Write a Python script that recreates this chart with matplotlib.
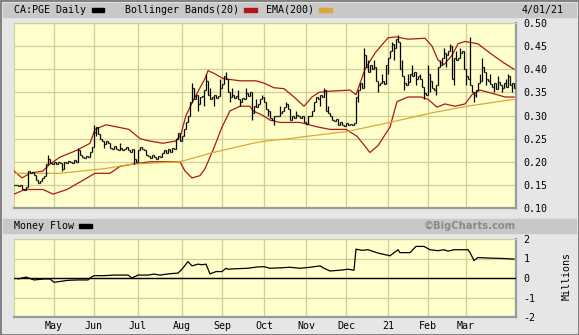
import matplotlib
matplotlib.use("Agg")
import matplotlib.pyplot as plt
from matplotlib.patches import Rectangle

#region data (x = trading-day index)
close = [
    0.150, 0.150, 0.148, 0.150, 0.142, 0.138, 0.145, 0.180, 0.175, 0.178,
    0.172, 0.160, 0.155, 0.158, 0.165, 0.170, 0.195, 0.205, 0.198, 0.195,
    0.200, 0.196, 0.200, 0.198, 0.185, 0.200, 0.198, 0.202, 0.200, 0.197,
    0.203, 0.200, 0.225, 0.215, 0.210, 0.208, 0.212, 0.210, 0.222, 0.232,
    0.265, 0.275, 0.260, 0.250, 0.245, 0.238, 0.245, 0.240, 0.230, 0.228,
    0.235, 0.228, 0.225, 0.230, 0.225, 0.228, 0.232, 0.225, 0.222, 0.228,
    0.205, 0.200, 0.225, 0.232, 0.228, 0.225, 0.215, 0.212, 0.208, 0.215,
    0.210, 0.206, 0.212, 0.210, 0.218, 0.225, 0.220, 0.228, 0.222, 0.230,
    0.228, 0.250, 0.262, 0.245, 0.255, 0.270, 0.285, 0.300, 0.330, 0.360,
    0.335, 0.345, 0.325, 0.340, 0.342, 0.355, 0.375, 0.345, 0.335, 0.340,
    0.345, 0.338, 0.342, 0.360, 0.368, 0.385, 0.378, 0.350, 0.340, 0.345,
    0.338, 0.342, 0.335, 0.330, 0.338, 0.335, 0.348, 0.342, 0.350, 0.305,
    0.320, 0.318, 0.325, 0.335, 0.340, 0.330, 0.315, 0.310, 0.295, 0.290,
    0.298, 0.300, 0.300, 0.305, 0.310, 0.318, 0.325, 0.315, 0.290, 0.300,
    0.295, 0.302, 0.298, 0.295, 0.300, 0.285, 0.282, 0.300, 0.298, 0.310,
    0.330, 0.340, 0.335, 0.345, 0.340, 0.355, 0.310, 0.305, 0.300, 0.290,
    0.288, 0.292, 0.280, 0.285, 0.280, 0.278, 0.283, 0.280, 0.282, 0.280,
    0.283, 0.340, 0.355, 0.370, 0.360, 0.430, 0.405, 0.395, 0.410, 0.400,
    0.405, 0.375, 0.365, 0.370, 0.375, 0.368, 0.410, 0.425, 0.440, 0.455,
    0.445, 0.465, 0.460, 0.400, 0.385, 0.370, 0.365, 0.372, 0.390, 0.385,
    0.395, 0.380, 0.385, 0.378, 0.362, 0.348, 0.345, 0.390, 0.375, 0.360,
    0.355, 0.365, 0.405, 0.410, 0.425, 0.435, 0.430, 0.440, 0.450, 0.380,
    0.425, 0.420, 0.425, 0.435, 0.440, 0.400, 0.385, 0.380, 0.365, 0.350,
    0.345, 0.355, 0.370, 0.375, 0.405, 0.395, 0.380, 0.375, 0.368, 0.362,
    0.370, 0.358, 0.372, 0.365, 0.360, 0.370, 0.362, 0.385, 0.365, 0.370,
    0.360,
]
# intraday extremes that poke out past open/close
spike_idx = [7, 16, 17, 24, 32, 40, 41, 45, 53, 60, 89, 92, 95, 96, 98, 100, 103,
             106, 108, 109, 112, 113, 116, 119, 121, 124, 127, 130, 133, 136, 141,
             153, 155, 157, 171, 172, 175, 177, 180, 182, 184, 187, 189, 190, 192,
             194, 195, 197, 199, 201, 203, 205, 207, 208, 211, 213, 215, 216, 218,
             220, 221, 223, 225, 226, 228, 230, 231, 233, 234, 236, 238, 240, 242,
             244, 246, 247, 249]
spike_val = [0.165, 0.185, 0.215, 0.180, 0.230, 0.280, 0.255, 0.230, 0.240, 0.195,
             0.370, 0.310, 0.320, 0.390, 0.360, 0.320, 0.380, 0.395, 0.330, 0.360,
             0.355, 0.320, 0.360, 0.290, 0.335, 0.345, 0.300, 0.280, 0.320, 0.330,
             0.310, 0.320, 0.360, 0.320, 0.300, 0.330, 0.445, 0.420, 0.420, 0.350,
             0.390, 0.390, 0.460, 0.420, 0.475, 0.420, 0.355, 0.390, 0.410, 0.365,
             0.390, 0.335, 0.410, 0.350, 0.345, 0.420, 0.445, 0.405, 0.455, 0.365,
             0.440, 0.445, 0.430, 0.365, 0.470, 0.330, 0.340, 0.390, 0.425, 0.365,
             0.390, 0.350, 0.385, 0.350, 0.380, 0.390, 0.350]

upper_idx = [0, 4, 8, 14.5, 18, 23, 31.5, 38, 40.5, 46, 57.5, 63, 67.5, 74.5, 81,
             83.5, 86, 90.5, 95.5, 97, 100.5, 104.5, 113, 121, 125, 130, 135, 140,
             145, 149, 152.5, 156, 168, 171, 175.5, 180.5, 187, 191, 197, 205.5,
             209, 212, 215, 219, 222, 225.5, 232, 238, 244.5, 250]
upper_val = [0.18, 0.165, 0.175, 0.18, 0.195, 0.21, 0.225, 0.24, 0.27, 0.28, 0.27,
             0.25, 0.245, 0.24, 0.245, 0.26, 0.30, 0.34, 0.38, 0.397, 0.39, 0.38,
             0.375, 0.375, 0.37, 0.36, 0.358, 0.34, 0.32, 0.34, 0.35, 0.352, 0.355,
             0.345, 0.40, 0.435, 0.468, 0.47, 0.465, 0.467, 0.45, 0.42, 0.41, 0.43,
             0.455, 0.46, 0.455, 0.435, 0.415, 0.40]

lower_idx = [0, 5.5, 14.5, 19.5, 26.5, 34.5, 40.5, 48, 53, 59.5, 68, 76.5, 83,
             85.5, 89, 93, 95.5, 99.5, 104, 108, 113, 118, 119.5, 124.5, 128, 133,
             143, 152, 158, 166, 171.5, 178, 182, 188, 191.5, 197, 203.5, 207,
             211.5, 215.5, 220.5, 225.5, 229, 233, 239, 245.5, 250]
lower_val = [0.13, 0.14, 0.14, 0.13, 0.14, 0.16, 0.175, 0.175, 0.19, 0.195, 0.20,
             0.20, 0.20, 0.18, 0.165, 0.17, 0.185, 0.225, 0.275, 0.31, 0.32, 0.32,
             0.31, 0.30, 0.29, 0.285, 0.285, 0.275, 0.27, 0.27, 0.255, 0.22, 0.235,
             0.275, 0.33, 0.34, 0.34, 0.335, 0.318, 0.325, 0.32, 0.325, 0.345,
             0.355, 0.348, 0.34, 0.34]

ema_idx = [0, 23, 45, 59.5, 83, 99.5, 119.5, 126, 138, 146.5, 166, 188, 208, 226.5, 250]
ema_val = [0.175, 0.175, 0.185, 0.195, 0.20, 0.22, 0.24, 0.245, 0.25, 0.255, 0.265,
           0.285, 0.305, 0.32, 0.335]

mf_idx = [2, 6, 10, 15, 18, 20, 27, 32, 37, 38, 40, 45, 50, 57, 59, 62, 67, 70, 73,
          78, 82, 84, 87, 89, 92, 94, 96, 98, 101, 104, 106, 107, 110, 117, 122,
          125, 128, 133, 138, 143, 148, 153, 155, 158, 163, 167, 170, 171, 174,
          177, 182, 188, 192, 193, 198, 201, 205, 208, 212, 215, 217, 220, 227,
          228, 230, 232, 238, 245, 250]
mf_val = [-0.05, 0.05, -0.10, -0.05, -0.05, -0.22, -0.12, -0.10, -0.10, 0.0, 0.12,
          0.12, 0.15, 0.15, 0.0, 0.15, 0.15, 0.20, 0.15, 0.22, 0.25, 0.45, 0.84,
          0.62, 0.71, 0.68, 0.71, 0.21, 0.33, 0.33, 0.50, 0.45, 0.47, 0.50, 0.57,
          0.58, 0.50, 0.52, 0.55, 0.50, 0.55, 0.62, 0.50, 0.36, 0.40, 0.45, 0.40,
          1.48, 1.42, 1.45, 1.28, 1.14, 1.45, 1.30, 1.30, 1.62, 1.62, 1.45, 1.40,
          1.45, 1.38, 1.45, 1.45, 1.30, 0.90, 1.05, 1.02, 1.00, 0.97]

month_idx = [20, 40, 62, 84, 104, 125, 146, 166, 187, 207, 226]
month_lbl = ["May", "Jun", "Jul", "Aug", "Sep", "Oct", "Nov", "Dec", "21", "Feb", "Mar"]
price_ticks = [0.10, 0.15, 0.20, 0.25, 0.30, 0.35, 0.40, 0.45, 0.50]
mf_ticks = [-2, -1, 0, 1, 2]
#endregion

W, H = 579, 335
BG = "#e6e6e6"
BAND = "#c8c8c8"
PANEL = "#ffffcc"
GRID = "#cfcf96"
RED = "#b01818"
ORANGE = "#dea63a"
FONT = "DejaVu Sans Mono"
FS = 7.2

def px(x, y):
    return x / W, 1 - y / H

fig = plt.figure(figsize=(W / 100, H / 100), dpi=100, facecolor=BG)

# header bands
for y0, y1 in [(3, 17), (219, 233)]:
    fig.patches.append(Rectangle(px(3, y1), 573 / W, (y1 - y0) / H,
                                 transform=fig.transFigure, color=BAND, zorder=0))
fig.patches.append(Rectangle((0.5 / W, 0.5 / H), (W - 1) / W, (H - 1) / H,
                             transform=fig.transFigure, fill=False,
                             edgecolor="#707070", lw=1.2, zorder=5))

def swatch(x0, x1, y, color):
    fig.patches.append(Rectangle(px(x0, y + 2), (x1 - x0) / W, 4 / H,
                                 transform=fig.transFigure, color=color, zorder=2))

fig.text(*px(14, 10), "CA:PGE Daily", family=FONT, fontsize=FS, va="center")
swatch(92, 104, 10, "black")
fig.text(*px(125, 10), "Bollinger Bands(20)", family=FONT, fontsize=FS, va="center")
swatch(244, 257, 10, RED)
fig.text(*px(266, 10), "EMA(200)", family=FONT, fontsize=FS, va="center")
swatch(319, 332, 10, ORANGE)
fig.text(*px(564, 10), "4/01/21", family=FONT, fontsize=FS, va="center", ha="right")

fig.text(*px(14, 226), "Money Flow", family=FONT, fontsize=FS, va="center")
swatch(79, 92, 226, "black")
fig.text(*px(516, 226), "\u00a9BigCharts.com", fontsize=7.2, fontweight="bold",
         color="#8a8a8a", va="center", ha="right")
fig.text(*px(567, 276), "Millions", family=FONT, fontsize=FS, rotation=90,
         va="center", ha="center")

def style(ax):
    ax.set_facecolor(PANEL)
    ax.set_xlim(0, 251)
    ax.set_xticks(month_idx)
    ax.grid(True, color=GRID, lw=0.9)
    ax.set_axisbelow(True)
    ax.yaxis.tick_right()
    for s in ["top", "left"]:
        ax.spines[s].set_color(GRID)
        ax.spines[s].set_linewidth(0.8)
    for s in ["bottom", "right"]:
        ax.spines[s].set_color("#9a9a9a")
        ax.spines[s].set_linewidth(1.6)
    ax.tick_params(length=0, labelsize=FS, pad=5.5)
    for lab in ax.get_xticklabels() + ax.get_yticklabels():
        lab.set_family(FONT)

# price panel
ax = fig.add_axes([14 / W, 1 - 208 / H, 502 / W, 185 / H])
style(ax)
ax.set_ylim(0.10, 0.50)
ax.set_yticks(price_ticks, [f"{v:.2f}" for v in price_ticks], family=FONT)
ax.set_xticklabels([])

opens = [close[0]] + close[:-1]
highs = [max(o, c) for o, c in zip(opens, close)]
lows = [min(o, c) for o, c in zip(opens, close)]
for i, v in zip(spike_idx, spike_val):
    highs[i] = max(highs[i], v)
    lows[i] = min(lows[i], v)
idx = list(range(len(close)))
ax.vlines(idx, lows, highs, color="black", lw=0.9, zorder=4)
ax.hlines(opens, [i - 0.5 for i in idx], idx, color="black", lw=0.9, zorder=4)
ax.hlines(close, idx, [i + 0.5 for i in idx], color="black", lw=0.9, zorder=4)

ax.plot(upper_idx, upper_val, color=RED, lw=0.9, zorder=3)
ax.plot(lower_idx, lower_val, color=RED, lw=0.9, zorder=3)
ax.plot(ema_idx, ema_val, color=ORANGE, lw=0.9, zorder=3)

# money flow panel
ax2 = fig.add_axes([14 / W, 1 - 317 / H, 502 / W, 78 / H])
style(ax2)
ax2.set_ylim(-2, 2)
ax2.set_yticks(mf_ticks, [str(v) for v in mf_ticks], family=FONT)
ax2.set_xticklabels(month_lbl, family=FONT)
ax2.tick_params(axis="x", pad=3)
ax2.axhline(0, color="black", lw=1.0, zorder=3)
ax2.plot(mf_idx, mf_val, color="black", lw=0.9, zorder=4)

fig.savefig("out.png", dpi=100, facecolor=BG)
